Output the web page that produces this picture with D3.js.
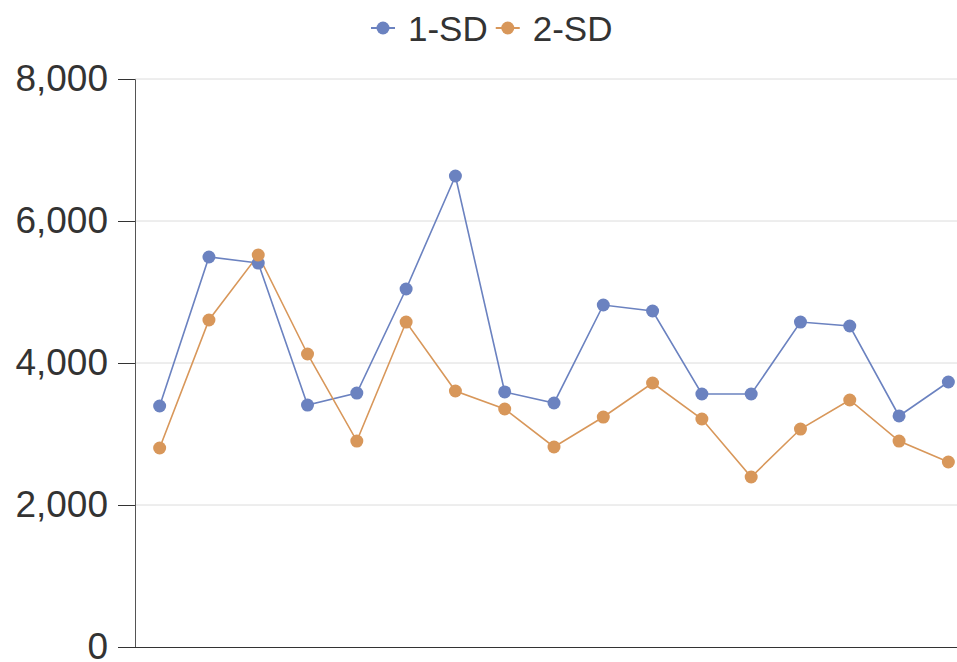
<!DOCTYPE html>
<html>
<head>
<meta charset="utf-8">
<script src="https://cdn.jsdelivr.net/npm/d3@7"></script>
<style>
  body { margin: 0; background: #fff; }
  svg { font-family: "Liberation Sans", Arial, sans-serif; }
</style>
</head>
<body>
<svg id="chart" width="957" height="662"></svg>
<script>
const categories = d3.range(1, 18).map(String)
const sd1 = [3394, 5493, 5408, 3408, 3577, 5042, 6634, 3592, 3437, 4817, 4732, 3563, 3563, 4577, 4521, 3254, 3732]
const sd2 = [2803, 4606, 5521, 4127, 2901, 4577, 3606, 3352, 2817, 3239, 3718, 3211, 2394, 3070, 3479, 2901, 2606]
const yTicks = [0, 2000, 4000, 6000, 8000]

const series = [
  { name: "1-SD", values: sd1, color: "#6b82c0" },
  { name: "2-SD", values: sd2, color: "#d8975a" }
]

const svg = d3.select("#chart")
const plotLeft = 135, plotRight = 973, plotTop = 79, plotBottom = 647

const x = d3.scaleBand().domain(categories).range([plotLeft, plotRight])
const y = d3.scaleLinear().domain([0, 8000]).range([plotBottom, plotTop])

// grid
svg.append("g")
  .selectAll("line")
  .data(yTicks.slice(1))
  .enter()
  .append("line")
  .attr("x1", plotLeft).attr("x2", 957)
  .attr("y1", d => y(d)).attr("y2", d => y(d))
  .attr("stroke", "#dcdcdc").attr("stroke-width", 1)

// y axis
const yAxis = svg.append("g")
  .attr("transform", `translate(${plotLeft},0)`)
  .call(d3.axisLeft(y).tickValues(yTicks).tickSize(17).tickPadding(10).tickFormat(d3.format(",")))
yAxis.select(".domain").attr("stroke", "#555")
yAxis.selectAll(".tick line").attr("stroke", "#333")
yAxis.selectAll("text").attr("font-size", 37).attr("fill", "#333").attr("font-family", "Liberation Sans, Arial, sans-serif")

// x axis line
svg.append("line")
  .attr("x1", 118).attr("x2", 957)
  .attr("y1", plotBottom + 0.5).attr("y2", plotBottom + 0.5)
  .attr("stroke", "#333")

const line = d3.line()
  .x((d, i) => x(categories[i]) + x.bandwidth() / 2)
  .y(d => y(d))

series.forEach(s => {
  svg.append("path")
    .datum(s.values)
    .attr("d", line)
    .attr("fill", "none")
    .attr("stroke", s.color)
    .attr("stroke-width", 1.6)
})
series.forEach(s => {
  svg.append("g")
    .selectAll("circle")
    .data(s.values)
    .enter()
    .append("circle")
    .attr("cx", (d, i) => x(categories[i]) + x.bandwidth() / 2)
    .attr("cy", d => y(d))
    .attr("r", 6.5)
    .attr("fill", s.color)
})

// legend
const legend = svg.append("g").attr("transform", "translate(371,28)")
let lx = 0
series.forEach(s => {
  const g = legend.append("g").attr("transform", `translate(${lx},0)`)
  g.append("line").attr("x1", 0).attr("x2", 24).attr("y1", 0).attr("y2", 0)
    .attr("stroke", s.color).attr("stroke-width", 2)
  g.append("circle").attr("cx", 12).attr("cy", 0).attr("r", 6.5).attr("fill", s.color)
  const t = g.append("text").attr("x", 37).attr("y", 12.5)
    .attr("font-size", 35).attr("fill", "#333").text(s.name)
  lx += 37 + t.node().getComputedTextLength() + 8
})
</script>
</body>
</html>
